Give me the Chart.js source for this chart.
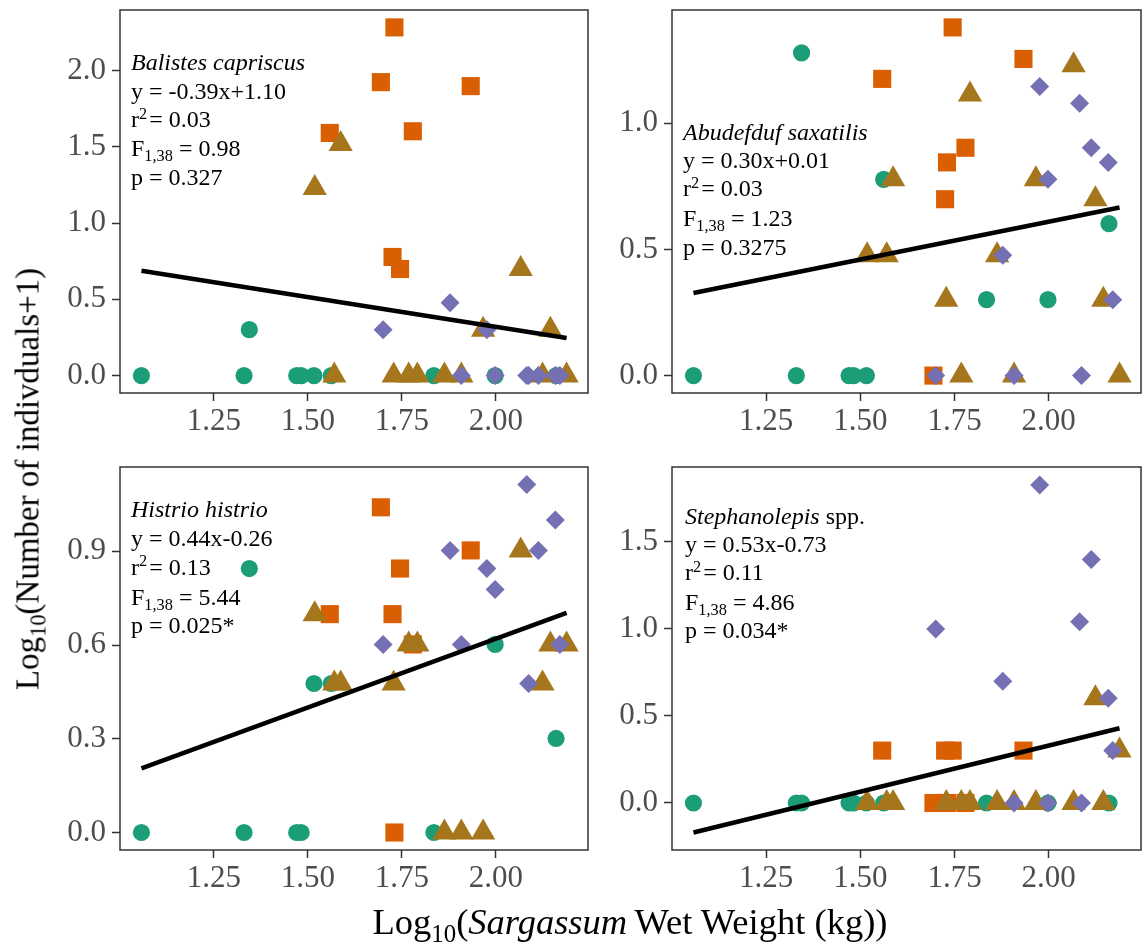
<!DOCTYPE html>
<html>
<head>
<meta charset="utf-8">
<script src="https://cdn.jsdelivr.net/npm/chart.js@4.4.1/dist/chart.umd.min.js"></script>
<style>
  html, body { margin: 0; padding: 0; background: #ffffff; }
  #wrap { position: relative; width: 1144px; height: 949px; overflow: hidden;
          font-family: "Liberation Serif", "Times New Roman", serif; color: #000; }
  #wrap canvas { position: absolute; }
  .note { position: absolute; font-size: 24px; line-height: 1; white-space: nowrap; }
  .note div { position: absolute; left: 0; top: 0; transform: translateY(-50%); white-space: nowrap; }
  sub, sup { font-size: 0.68em; line-height: 0; position: relative; vertical-align: baseline; }
  sup { top: -0.5em; }
  sub { top: 0.32em; }
  .axis-title { position: absolute; white-space: nowrap; line-height: 1; }
</style>
</head>
<body>
<div id="wrap">
  <canvas id="pA"></canvas>
  <canvas id="pB"></canvas>
  <canvas id="pC"></canvas>
  <canvas id="pD"></canvas>
  <div class="axis-title" id="yTitle">Log<sub>10</sub>(Number of indivduals+1)</div>
  <div class="axis-title" id="xTitle">Log<sub>10</sub>(<i>Sargassum</i>&thinsp;Wet Weight (kg))</div>
</div>
<script>
// Log10 Sargassum wet weight (kg) of each sample, one array per sampling group
const xGreen  = [1.057, 1.330, 1.344, 1.470, 1.482, 1.516, 1.562, 1.835, 1.998, 2.160];
const xOrange = [1.558, 1.694, 1.725, 1.730, 1.745, 1.779, 1.933];
const xGold   = [1.518, 1.570, 1.587, 1.728, 1.768, 1.791, 1.863, 1.908, 1.966, 2.066, 2.124, 2.145, 2.188];
const xPurple = [1.700, 1.878, 1.908, 1.976, 1.998, 2.082, 2.087, 2.113, 2.158, 2.170];

// Log10(count + 1) per species, in the same order as the x arrays
const balistesGreen  = [0, 0, 0.301, 0, 0, 0, 0, 0, 0, 0];
const balistesOrange = [1.591, 1.924, 0.778, 2.283, 0.699, 1.602, 1.898];
const balistesGold   = [1.230, 0, 1.519, 0, 0, 0, 0, 0, 0.301, 0.699, 0, 0.301, 0];
const balistesPurple = [0.301, 0.477, 0, 0.301, 0, 0, 0, 0, 0, 0];

const abudefdufGreen  = [0, 0, 1.279, 0, 0, 0, 0.778, 0.301, 0.301, 0.602];
const abudefdufOrange = [1.176, 0, 0.699, 0.845, 1.380, 0.903, 1.255];
const abudefdufGold   = [0.477, 0.477, 0.778, 0.301, 0, 1.114, 0.477, 0, 0.778, 1.230, 0.699, 0.301, 0];
const abudefdufPurple = [0, 0.477, 0, 1.146, 0.778, 1.079, 0, 0.903, 0.845, 0.301];

const histrioGreen  = [0, 0, 0.845, 0, 0, 0.477, 0.477, 0, 0.602, 0.301];
const histrioOrange = [0.699, 1.041, 0.699, 0, 0.845, 0.602, 0.903];
const histrioGold   = [0.699, 0.477, 0.477, 0.477, 0.602, 0.602, 0, 0, 0, 0.903, 0.477, 0.602, 0.602];
const histrioPurple = [0.602, 0.903, 0.602, 0.845, 0.778, 1.114, 0.477, 0.903, 1.000, 0.602];

const stephGreen  = [0, 0, 0, 0, 0, 0, 0, 0, 0, 0];
const stephOrange = [0.301, 0, 0.301, 0, 0.301, 0, 0.301];
const stephGold   = [0, 0, 0, 0, 0, 0, 0, 0, 0, 0, 0.602, 0, 0.301];
const stephPurple = [1.000, 0.699, 0, 1.826, 0, 1.041, 0, 1.398, 0.602, 0.301];

// Regression results per species
const speciesNames = ['Balistes capriscus', 'Abudefduf saxatilis', 'Histrio histrio', 'Stephanolepis'];
const speciesSuffix = ['', '', '', ' spp.'];
const slopes     = [-0.39, 0.30, 0.44, 0.53];
const intercepts = [1.10, 0.01, -0.26, -0.73];
const rSquared   = ['0.03', '0.03', '0.13', '0.11'];
const fValues    = ['0.98', '1.23', '5.44', '4.86'];
const pValues    = ['0.327', '0.3275', '0.025*', '0.034*'];

// Axis ticks
const xTicks = [1.25, 1.50, 1.75, 2.00];
const yTicksA = [0, 0.5, 1.0, 1.5, 2.0];
const yTicksB = [0, 0.5, 1.0];
const yTicksC = [0, 0.3, 0.6, 0.9];
const yTicksD = [0, 0.5, 1.0, 1.5];

// Dark2 palette colours
const COL_GREEN = '#1B9E77', COL_ORANGE = '#D95F02', COL_PURPLE = '#7570B3', COL_GOLD = '#A6761D';

const FONT = '"Liberation Serif", "Times New Roman", serif';
const PAD_L = 120, PAD_T = 10, PAD_R = 6, PAD_B = 70;

const allX = xGreen.concat(xOrange, xGold, xPurple);
const xLo = Math.min(...allX), xHi = Math.max(...allX);

const panels = [
  { id: 'pA', box: { left: 120, top: 10, right: 588, bottom: 393 }, yMin: -0.114, yMax: 2.397, yTicks: yTicksA,
    g: balistesGreen, o: balistesOrange, t: balistesGold, p: balistesPurple,
    note: { dx: 11, lines: [52, 81, 109, 138, 166.5] } },
  { id: 'pB', box: { left: 672, top: 10, right: 1141, bottom: 393 }, yMin: -0.069, yMax: 1.449, yTicks: yTicksB,
    g: abudefdufGreen, o: abudefdufOrange, t: abudefdufGold, p: abudefdufPurple,
    note: { dx: 11, lines: [122, 150, 178, 208, 236.5] } },
  { id: 'pC', box: { left: 120, top: 467, right: 588, bottom: 850 }, yMin: -0.056, yMax: 1.170, yTicks: yTicksC,
    g: histrioGreen, o: histrioOrange, t: histrioGold, p: histrioPurple,
    note: { dx: 11, lines: [41.5, 71, 99.5, 129.5, 158] } },
  { id: 'pD', box: { left: 672, top: 467, right: 1141, bottom: 850 }, yMin: -0.27, yMax: 1.93, yTicks: yTicksD,
    g: stephGreen, o: stephOrange, t: stephGold, p: stephPurple,
    note: { dx: 13, lines: [49, 77, 105, 134.5, 163] } }
];

function pts(xs, ys) { return xs.map((x, i) => ({ x: x, y: ys[i] })); }

const framePlugin = {
  id: 'frame',
  afterDraw(chart) {
    const a = chart.chartArea, ctx = chart.ctx;
    ctx.save();
    ctx.strokeStyle = '#333333';
    ctx.lineWidth = 1.5;
    ctx.strokeRect(a.left, a.top, a.right - a.left, a.bottom - a.top);
    ctx.restore();
  }
};

function equationText(i) {
  const s = slopes[i], b = intercepts[i];
  return 'y = ' + s.toFixed(2) + 'x' + (b < 0 ? '-' : '+') + Math.abs(b).toFixed(2);
}

panels.forEach((pn, k) => {
  const bw = pn.box.right - pn.box.left, bh = pn.box.bottom - pn.box.top;
  const cv = document.getElementById(pn.id);
  const W = PAD_L + bw + PAD_R, H = PAD_T + bh + PAD_B;
  cv.width = W; cv.height = H;
  cv.style.width = W + 'px'; cv.style.height = H + 'px';
  cv.style.left = (pn.box.left - PAD_L) + 'px';
  cv.style.top = (pn.box.top - PAD_T) + 'px';

  new Chart(cv, {
    type: 'scatter',
    data: {
      datasets: [
        { label: 'fit', data: [{ x: xLo, y: slopes[k] * xLo + intercepts[k] }, { x: xHi, y: slopes[k] * xHi + intercepts[k] }],
          showLine: true, borderColor: '#000000', borderWidth: 4.5, pointRadius: 0, fill: false },
        { label: 'purple', data: pts(xPurple, pn.p), pointStyle: 'rectRot', pointRadius: 9.5,
          backgroundColor: COL_PURPLE, borderWidth: 0 },
        { label: 'gold', data: pts(xGold, pn.t), pointStyle: 'triangle', pointRadius: 14,
          backgroundColor: COL_GOLD, borderWidth: 0 },
        { label: 'orange', data: pts(xOrange, pn.o), pointStyle: 'rect', pointRadius: 12.8,
          backgroundColor: COL_ORANGE, borderWidth: 0 },
        { label: 'green', data: pts(xGreen, pn.g), pointStyle: 'circle', pointRadius: 8.6,
          backgroundColor: COL_GREEN, borderWidth: 0 }
      ]
    },
    options: {
      responsive: false,
      animation: false,
      devicePixelRatio: 1,
      layout: { autoPadding: false, padding: { left: 0, top: PAD_T, right: PAD_R, bottom: 0 } },
      plugins: { legend: { display: false }, tooltip: { enabled: false } },
      elements: { point: { hoverRadius: 0 } },
      scales: {
        x: {
          type: 'linear', min: 1.0, max: 2.245,
          afterBuildTicks: (ax) => { ax.ticks = xTicks.map(v => ({ value: v })); },
          afterFit: (ax) => { ax.height = PAD_B; ax.paddingLeft = 0; ax.paddingRight = 0; },
          grid: { display: true, drawOnChartArea: false, drawTicks: true, tickLength: 8, tickWidth: 1.5, tickColor: '#333333' },
          border: { display: false },
          ticks: { autoSkip: false, maxRotation: 0, padding: 2, color: '#4D4D4D',
                   font: { family: FONT, size: 31 }, callback: (v) => Number(v).toFixed(2) }
        },
        y: {
          type: 'linear', min: pn.yMin, max: pn.yMax,
          afterBuildTicks: (ax) => { ax.ticks = pn.yTicks.map(v => ({ value: v })); },
          afterFit: (ax) => { ax.width = PAD_L; ax.paddingTop = 0; ax.paddingBottom = 0; },
          grid: { display: true, drawOnChartArea: false, drawTicks: true, tickLength: 8, tickWidth: 1.5, tickColor: '#333333' },
          border: { display: false },
          ticks: { autoSkip: false, padding: 6, color: '#4D4D4D',
                   font: { family: FONT, size: 31 }, callback: (v) => Number(v).toFixed(1) }
        }
      }
    },
    plugins: [framePlugin]
  });

  // Species name and regression summary
  const note = document.createElement('div');
  note.className = 'note';
  note.style.left = (pn.box.left + pn.note.dx) + 'px';
  note.style.top = pn.box.top + 'px';
  const lines = [
    '<i>' + speciesNames[k] + '</i>' + speciesSuffix[k],
    equationText(k),
    'r<sup>2</sup>&#8202;= ' + rSquared[k],
    'F<sub>1,38</sub> = ' + fValues[k],
    'p = ' + pValues[k]
  ];
  lines.forEach((html, j) => {
    const d = document.createElement('div');
    d.innerHTML = html;
    d.style.top = pn.note.lines[j] + 'px';
    note.appendChild(d);
  });
  document.getElementById('wrap').appendChild(note);
});

// Shared axis titles
const yt = document.getElementById('yTitle');
yt.style.fontSize = '33px';
yt.style.left = '28px'; yt.style.top = '479px';
yt.style.transform = 'translate(-50%, -50%) rotate(-90deg)';
const xt = document.getElementById('xTitle');
xt.style.fontSize = '36.5px';
xt.style.left = '630px'; xt.style.top = '922px';
xt.style.transform = 'translate(-50%, -50%)';
</script>
</body>
</html>
